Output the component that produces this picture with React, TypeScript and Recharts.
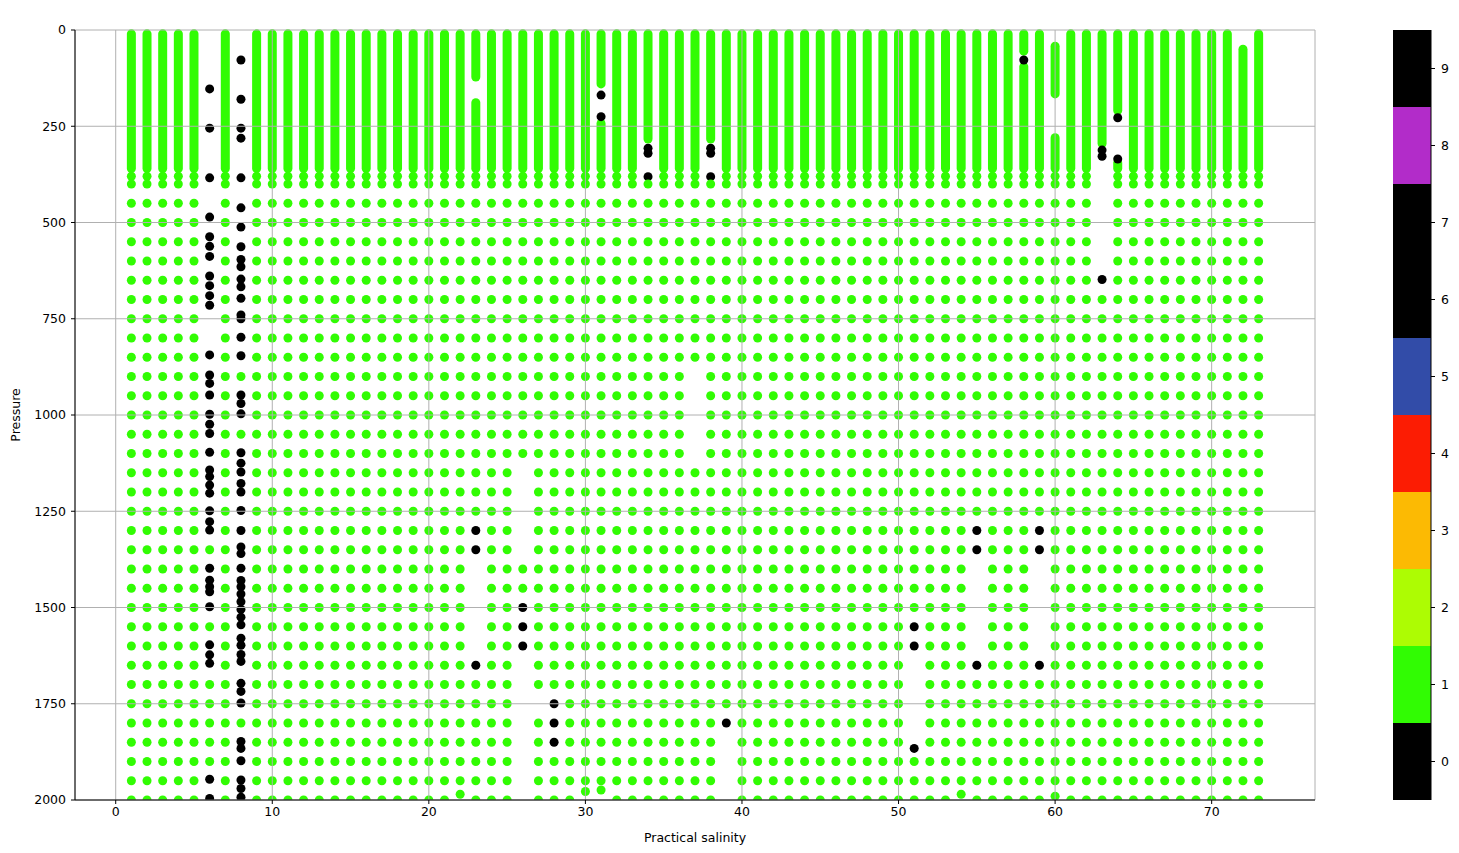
import React from 'react';
import {
  ScatterChart,
  Scatter,
  XAxis,
  YAxis,
  CartesianGrid,
  ReferenceLine,
  BarChart,
  Bar,
} from 'recharts';

// QC flag colours (0..9), as in the colour bar
const QC_COLORS = ['#000000', '#31FC03', '#ADFC03', '#FCBA03', '#FC1C03', '#324CA8', '#000000', '#000000', '#B22CC9', '#000000'];
const QC_LABELS = ['0', '1', '2', '3', '4', '5', '6', '7', '8', '9'];
const COLORBAR_TICKS = [0.5, 1.5, 2.5, 3.5, 4.5, 5.5, 6.5, 7.5, 8.5, 9.5];

// profile index on the x axis
const PROFILES = [
  1, 2, 3, 4, 5, 6, 7, 8, 9, 10, 11, 12, 13, 14, 15, 16, 17, 18, 19, 20,
  21, 22, 23, 24, 25, 26, 27, 28, 29, 30, 31, 32, 33, 34, 35, 36, 37, 38, 39, 40,
  41, 42, 43, 44, 45, 46, 47, 48, 49, 50, 51, 52, 53, 54, 55, 56, 57, 58, 59, 60,
  61, 62, 63, 64, 65, 66, 67, 68, 69, 70, 71, 72, 73,
];

// deep sampling levels (dbar)
const STD_LEVELS = [
  380, 400, 450, 500, 550, 600, 650, 700, 750, 800, 850, 900, 950, 1000, 1050, 1100,
  1150, 1200, 1250, 1300, 1350, 1400, 1450, 1500, 1550, 1600, 1650, 1700, 1750, 1800,
  1850, 1900, 1950, 2000,
];

// dense near-surface sampling, drawn as continuous runs [top, bottom]
const SHALLOW_RANGE: [number, number] = [10, 360];
const SHALLOW_OVERRIDES: Record<number, [number, number][]> = {
  6: [],
  8: [],
  23: [[10, 122], [189, 360]],
  31: [[10, 140], [243, 360]],
  34: [[10, 283]],
  38: [[10, 283]],
  58: [[10, 55], [95, 360]],
  60: [[42, 166], [280, 360]],
  63: [[10, 295]],
  64: [[10, 209], [345, 360]],
  72: [[50, 360]],
};

// standard levels absent (or flagged) for a profile
const MISSING_LEVELS: Record<number, number[]> = {
  22: [2000],
  23: [1300, 1350, 1400, 1450, 1500, 1550, 1600, 1650],
  26: [1150, 1200, 1250, 1300, 1350, 1500, 1550, 1600, 1650, 1700, 1750, 1800, 1850, 1900, 1950, 2000],
  27: [1750],
  28: [1750, 1800, 1850],
  30: [2000],
  31: [2000],
  34: [380],
  37: [900, 950, 1000, 1050, 1100],
  38: [380],
  39: [1800, 1850, 1900, 1950, 2000],
  51: [1550, 1600, 1650, 1700, 1750, 1800, 1850],
  54: [2000],
  55: [1300, 1350, 1400, 1450, 1500, 1550, 1600, 1650],
  59: [1300, 1350, 1400, 1450, 1500, 1550, 1600, 1650],
  60: [2000],
  63: [380, 400, 450, 500, 550, 600, 650],
};

// profiles with their own irregular sampling: good-flag levels only
const IRREGULAR_GOOD: Record<number, number[]> = {
  6: [1350, 1550, 1700, 1750, 1800, 1850, 1900],
  8: [900, 1050, 1800],
};

const EXTRA_GOOD: [number, number][] = [[22, 1985], [30, 1978], [31, 1974], [54, 1985], [60, 1990]];

// flagged (black) measurements
const FLAGGED: Record<number, number[]> = {
  6: [153, 255, 384, 486, 537, 562, 588, 639, 664, 690, 715, 844, 896, 918, 948, 998, 1024, 1048,
    1097, 1143, 1160, 1182, 1203, 1249, 1277, 1299, 1398, 1429, 1446, 1459, 1498, 1597, 1623, 1645, 1946, 1996],
  8: [78, 180, 255, 281, 384, 462, 512, 563, 596, 615, 647, 667, 697, 740, 750, 798, 846, 948, 970, 997,
    1098, 1125, 1148, 1178, 1200, 1248, 1300, 1343, 1360, 1398, 1430, 1446, 1465, 1485, 1505, 1525, 1545,
    1580, 1598, 1622, 1640, 1697, 1718, 1748, 1848, 1866, 1898, 1948, 1970, 1993],
  23: [1300, 1350, 1650],
  26: [1500, 1550, 1600],
  28: [1750, 1800, 1850],
  31: [169, 225],
  34: [307, 320, 381],
  38: [307, 320, 381],
  39: [1800],
  51: [1550, 1600, 1866],
  55: [1300, 1350, 1650],
  58: [78],
  59: [1300, 1350, 1650],
  63: [312, 328, 648],
  64: [228, 335],
};

const X_TICKS = [0, 10, 20, 30, 40, 50, 60, 70];
const Y_TICKS = [0, 250, 500, 750, 1000, 1250, 1500, 1750, 2000];
const X_DOMAIN: [number, number] = [-2.6, 76.6];
const Y_DOMAIN: [number, number] = [0, 2000];

const W = 1459;
const H = 853;
const PLOT_MARGIN = { top: 30, right: 144, bottom: 53, left: 75 };

const goodPoints: { x: number; y: number }[] = [];
PROFILES.forEach((p) => {
  const missing = MISSING_LEVELS[p] || [];
  const levels = IRREGULAR_GOOD[p] ?? STD_LEVELS.filter((l) => !missing.includes(l));
  levels.forEach((l) => goodPoints.push({ x: p, y: l }));
});
EXTRA_GOOD.forEach(([x, y]) => goodPoints.push({ x, y }));

const flaggedPoints = Object.keys(FLAGGED).flatMap((k) =>
  FLAGGED[Number(k)].map((y) => ({ x: Number(k), y }))
);

const segments = PROFILES.flatMap((p) =>
  (SHALLOW_OVERRIDES[p] ?? [SHALLOW_RANGE]).map(([top, bottom]) => ({ x: p, top, bottom }))
);

const colorbarData = [
  QC_COLORS.reduce((row: any, _c, i) => ({ ...row, [`q${i}`]: 1 }), { name: 'qc' }),
];

const dot = (color: string) => (props: any) => (
  <circle cx={props.cx} cy={props.cy} r={4.5} fill={color} />
);

const FONT_SIZE = 12.5;
const tickStyle = { fill: '#000', fontSize: FONT_SIZE };

export default function App() {
  return (
    <div style={{ position: 'absolute', left: 0, top: 0, width: W, height: H, fontFamily: 'DejaVu Sans', background: '#fff' }}>
      {/* data layer */}
      <div style={{ position: 'absolute', left: 0, top: 0 }}>
        <ScatterChart width={W} height={H} margin={PLOT_MARGIN}>
          <XAxis type="number" dataKey="x" domain={X_DOMAIN} allowDataOverflow hide />
          <YAxis type="number" dataKey="y" domain={Y_DOMAIN} reversed allowDataOverflow hide />
          <Scatter data={flaggedPoints} shape={dot(QC_COLORS[9])} isAnimationActive={false} />
          <Scatter data={goodPoints} shape={dot(QC_COLORS[1])} isAnimationActive={false} />
          {segments.map((s, i) => (
            <ReferenceLine
              key={`seg-${i}`}
              segment={[{ x: s.x, y: s.top }, { x: s.x, y: s.bottom }]}
              stroke={QC_COLORS[1]}
              strokeWidth={9}
              strokeLinecap="round"
            />
          ))}
        </ScatterChart>
      </div>

      {/* grid, spines, ticks and labels drawn over the data */}
      <div style={{ position: 'absolute', left: 0, top: 0, pointerEvents: 'none' }}>
        <ScatterChart width={W} height={H} margin={{ top: 30, right: 144, bottom: 0, left: 0 }}>
          <CartesianGrid stroke="#b0b0b0" strokeWidth={1} />
          <XAxis
            type="number"
            dataKey="x"
            domain={X_DOMAIN}
            ticks={X_TICKS}
            allowDataOverflow
            height={53}
            stroke="#000"
            tickSize={4}
            tickMargin={3}
            tick={tickStyle}
            label={{ value: 'Practical salinity', position: 'insideBottom', offset: 11, fill: '#000', fontSize: FONT_SIZE }}
          />
          <XAxis
            xAxisId="top"
            orientation="top"
            type="number"
            domain={X_DOMAIN}
            allowDataOverflow
            height={0}
            stroke="#000"
            tick={false}
            tickLine={false}
            label={{ value: 'PSAL_QC', position: 'top', offset: 9, fill: '#000', fontSize: 15 }}
          />
          <YAxis
            type="number"
            dataKey="y"
            domain={Y_DOMAIN}
            ticks={Y_TICKS}
            reversed
            allowDataOverflow
            width={75}
            stroke="#000"
            tickSize={4}
            tickMargin={5}
            tick={tickStyle}
            label={{ value: 'Pressure', angle: -90, position: 'insideLeft', offset: 16, fill: '#000', fontSize: FONT_SIZE, style: { textAnchor: 'middle' } }}
          />
          <YAxis
            yAxisId="right"
            orientation="right"
            type="number"
            domain={Y_DOMAIN}
            allowDataOverflow
            width={0}
            stroke="#000"
            tick={false}
            tickLine={false}
          />
          <Scatter data={[]} isAnimationActive={false} />
        </ScatterChart>
      </div>

      {/* colour bar */}
      <div style={{ position: 'absolute', left: 1393, top: 0 }}>
        <BarChart width={66} height={H} data={colorbarData} margin={{ top: 30, right: 0, bottom: 53, left: 0 }} barCategoryGap={0}>
          <XAxis dataKey="name" hide />
          <YAxis
            orientation="right"
            type="number"
            domain={[0, 10]}
            ticks={COLORBAR_TICKS}
            tickFormatter={(v: number) => QC_LABELS[Math.floor(v)]}
            width={28}
            stroke="#000"
            tickSize={4}
            tickMargin={6}
            tick={tickStyle}
          />
          {QC_COLORS.map((c, i) => (
            <Bar key={`q${i}`} dataKey={`q${i}`} stackId="cb" fill={c} isAnimationActive={false} />
          ))}
        </BarChart>
      </div>
    </div>
  );
}
